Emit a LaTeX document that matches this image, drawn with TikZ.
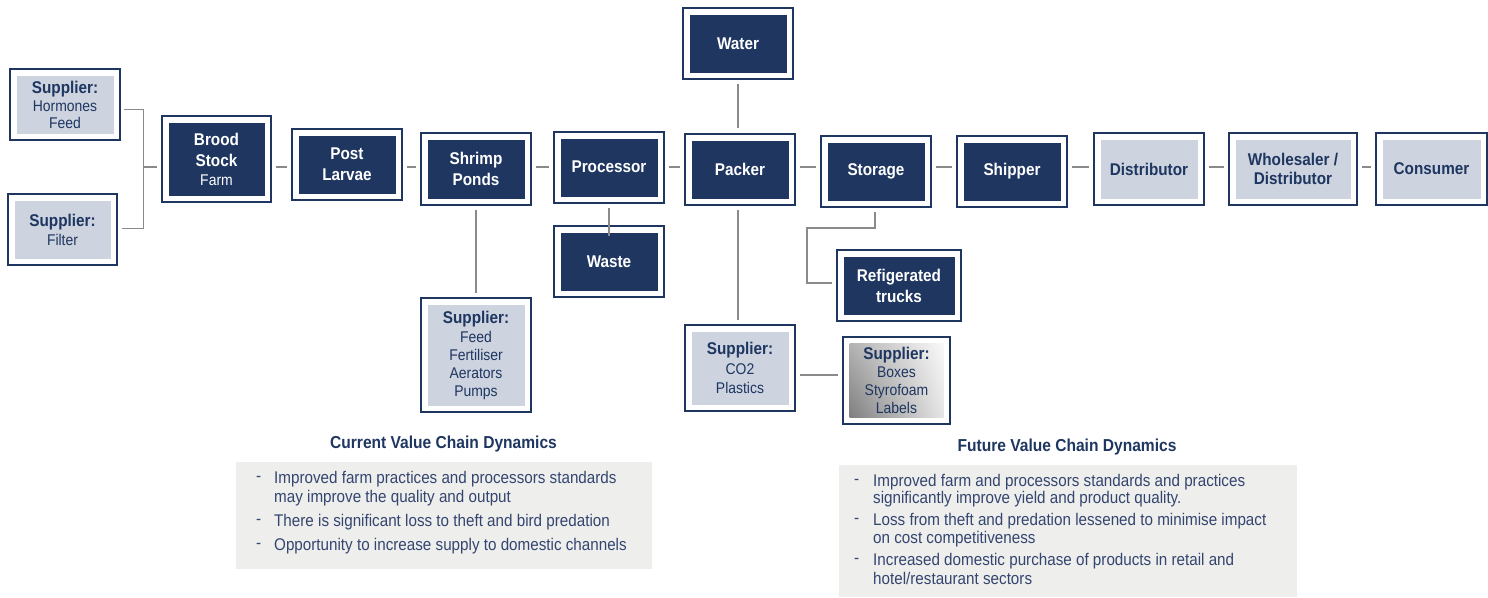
\documentclass[tikz,border=0pt]{standalone}
\usepackage{fontspec}
\setmainfont{Liberation Sans}[FakeStretch=0.9]
\usetikzlibrary{calc,shadings}
\definecolor{navy}{HTML}{1E3660}
\definecolor{pale}{HTML}{CDD3DF}
\definecolor{conn}{HTML}{8A8A8A}
\definecolor{bulletc}{HTML}{34456F}
\definecolor{panel}{HTML}{EEEEEC}
\newcommand\boldlab{\fontsize{17}{21}\selectfont\bfseries}
\newcommand\reglab{\fontsize{15.5}{17}\selectfont\mdseries}
\newcommand\bultxt{\fontsize{16.9}{18}\selectfont}
\begin{document}
\begin{tikzpicture}[x=1pt,y=-1pt,
  box/.style={draw=navy, line width=2.6pt, fill=white, inner sep=0pt, align=center,
    minimum width=110pt, minimum height=71pt},
  darkbox/.style={box, text=white, font=\boldlab,
    path picture={\fill[navy] ($(path picture bounding box.south west)+(6.5pt,6.5pt)$) rectangle ($(path picture bounding box.north east)+(-6.5pt,-6.5pt)$);}},
  lightbox/.style={box, text=navy, font=\boldlab,
    path picture={\fill[pale] ($(path picture bounding box.south west)+(6.5pt,6.5pt)$) rectangle ($(path picture bounding box.north east)+(-6.5pt,-6.5pt)$);}},
  gradbox/.style={box, text=navy, font=\boldlab,
    path picture={\shade[upper left=black!30, upper right=white, lower left=black!55, lower right=black!8] ($(path picture bounding box.south west)+(6.5pt,6.5pt)$) rectangle ($(path picture bounding box.north east)+(-6.5pt,-6.5pt)$);}},
  link/.style={draw=conn, line width=1.3pt},
  bul/.style={anchor=west, text=bulletc, font=\bultxt, inner sep=0pt},
  paneltitle/.style={text=navy, font=\fontsize{17.3}{20}\selectfont\bfseries, inner sep=0pt}
]
\useasboundingbox (0,0) rectangle (1488,597);

% nodes
\node[lightbox] (hormones) at (65,104.5) {Supplier:\\[-3pt]{\reglab Hormones}\\[-4pt]{\reglab Feed}};
\node[lightbox, minimum width=109pt] (filter) at (62.5,229.5) {Supplier:\\[-2pt]{\reglab Filter}};
\node[darkbox, minimum width=109pt, minimum height=86pt] (brood) at (216.5,159) {Brood\\Stock\\[-2pt]{\reglab Farm}};
\node[darkbox] (post) at (347,164.5) {Post\\Larvae};
\node[darkbox, minimum height=72pt] (shrimp) at (476,169) {Shrimp\\Ponds};
\node[darkbox] (processor) at (609,167.5) {\raisebox{2pt}{Processor}};
\node[darkbox] (waste) at (609,261.5) {Waste};
\node[darkbox] (water) at (738,43.5) {Water};
\node[darkbox] (packer) at (740,169.5) {Packer};
\node[darkbox] (storage) at (876,171.5) {Storage};
\node[darkbox] (shipper) at (1012,171.5) {Shipper};
\node[lightbox, minimum height=72pt] (distributor) at (1149,169) {Distributor};
\node[lightbox, minimum width=128pt, minimum height=72pt] (wholesaler) at (1293,169) {Wholesaler /\\[-2pt]Distributor};
\node[lightbox, minimum width=111pt, minimum height=72pt] (consumer) at (1431.5,169) {Consumer};
\node[darkbox, minimum width=124pt] (trucks) at (899,285.5) {Refigerated\\trucks};
\node[lightbox, minimum height=114pt] (supfeed) at (476,355) {Supplier:\\[-2pt]{\reglab Feed}\\[-3pt]{\reglab Fertiliser}\\[-3pt]{\reglab Aerators}\\[-3pt]{\reglab Pumps}};
\node[lightbox, minimum height=86pt] (supco2) at (740,368) {Supplier:\\[-1pt]{\reglab CO2}\\[-2pt]{\reglab Plastics}};
\node[gradbox, minimum width=107pt, minimum height=87pt] (supboxes) at (896.5,380.5) {Supplier:\\[-3pt]{\reglab Boxes}\\[-3pt]{\reglab Styrofoam}\\[-3pt]{\reglab Labels}};

% connectors
\coordinate (chain) at (0,167);
\coordinate (brk) at (143.5,167);
\draw[link] ($(hormones.east |- 0,109.5)+(3,0)$) -| (brk);
\draw[link] ($(filter.east |- 0,228.5)+(4,0)$) -| (brk);
\draw[link] (brk) -- ($(brood.west |- chain)+(-4,0)$);
\foreach \a/\b in {brood/post, post/shrimp, shrimp/processor, processor/packer, packer/storage, storage/shipper, shipper/distributor, distributor/wholesaler, wholesaler/consumer}{
  \draw[link] ($(\a.east |- chain)+(4,0)$) -- ($(\b.west |- chain)+(-4,0)$);
}
\draw[link] ($(shrimp.south)+(0,4)$) -- ($(supfeed.north)+(0,-4)$);
\draw[link] ($(processor.south)+(0,4)$) -- ($(waste.north)+(0,11)$);
\draw[link] ($(water.south |- 0,84)$) -- ($(packer.north -| water.south)+(0,-5)$);
\draw[link] ($(packer.south -| water.south)+(0,4)$) -- ($(supco2.north -| water.south)+(0,-4)$);
\coordinate (tk) at (807,228);
\draw[link] ($(storage.south -| 875,0)+(0,4)$) |- (tk) |- ($(trucks.west |- 0,283)+(-4,0)$);
\draw[link] ($(supco2.east |- 0,375)+(4,0)$) -- ($(supboxes.west |- 0,375)+(-4,0)$);

% panels
\fill[panel] (236,462) rectangle (652,569);
\fill[panel] (839,465) rectangle (1297,597);
\node[paneltitle] (ctitle) at (443.5,444) {Current Value Chain Dynamics};
\node[paneltitle] (ftitle) at (1067,447) {Future Value Chain Dynamics};

\node[bul] at (256,479) {-};
\node[bul] at (274,479) {Improved farm practices and processors standards};
\node[bul] at (274,498) {may improve the quality and output};
\node[bul] at (256,522) {-};
\node[bul] at (274,522) {There is significant loss to theft and bird predation};
\node[bul] at (256,546) {-};
\node[bul] at (274,546) {Opportunity to increase supply to domestic channels};

\node[bul] at (854,482) {-};
\node[bul] at (873,482) {Improved farm and processors standards and practices};
\node[bul] at (873,499) {significantly improve yield and product quality.};
\node[bul] at (854,521) {-};
\node[bul] at (873,521) {Loss from theft and predation lessened to minimise impact};
\node[bul] at (873,539) {on cost competitiveness};
\node[bul] at (854,561) {-};
\node[bul] at (873,561) {Increased domestic purchase of products in retail and};
\node[bul] at (873,578) {hotel/restaurant sectors};
\end{tikzpicture}
\end{document}
